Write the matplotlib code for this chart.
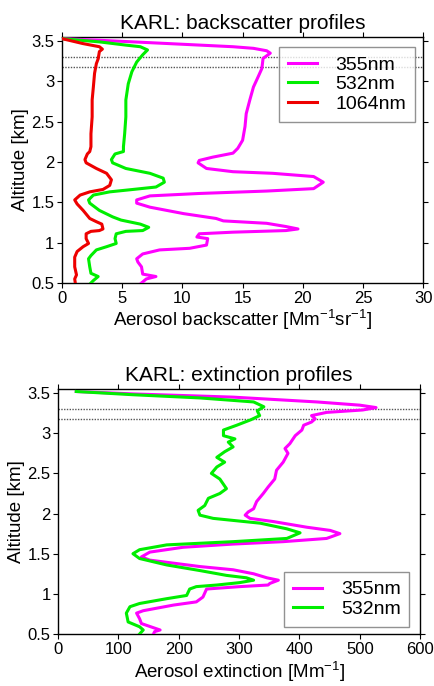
import matplotlib
matplotlib.use('Agg')
import matplotlib.pyplot as plt

plt.rcParams['font.family'] = ['Liberation Sans', 'DejaVu Sans']
plt.rcParams['mathtext.default'] = 'regular'

# backscatter profiles [Mm-1 sr-1] vs altitude [km]
b355_x = [0, 3.1, 8.7, 14.2, 15.9, 17.0, 17.3, 16.7, 16.6, 16.3, 15.9, 15.6, 15.3, 15.2,
          15.0, 14.6, 14.2, 12.5, 11.4, 11.3, 12.0, 14.2, 17.5, 20.9, 21.7, 20.9, 17.0,
          11.4, 7.3, 6.2, 6.2, 7.3, 10.1, 12.8, 13.4, 17.0, 18.6, 19.6, 18.6, 14.2, 11.4,
          11.2, 12.1, 12.0, 10.6, 8.1, 6.7, 6.2, 6.3, 6.6, 6.7, 7.8, 7.0, 6.6]
b355_y = [3.53, 3.51, 3.47, 3.43, 3.41, 3.38, 3.35, 3.285, 3.16, 3.06, 2.93, 2.77, 2.6, 2.44,
          2.27, 2.17, 2.11, 2.06, 2.02, 1.99, 1.92, 1.88, 1.86, 1.82, 1.75, 1.67, 1.64,
          1.61, 1.58, 1.53, 1.49, 1.44, 1.36, 1.30, 1.27, 1.24, 1.20, 1.17, 1.15, 1.13, 1.11,
          1.07, 1.05, 0.97, 0.93, 0.91, 0.86, 0.80, 0.76, 0.70, 0.61, 0.58, 0.55, 0.50]

b532_x = [0, 3.1, 5.3, 6.5, 7.1, 6.7, 6.2, 5.8, 5.5, 5.3, 5.3, 5.2, 5.1, 5.1, 4.4, 4.1, 4.2,
          5.3, 7.3, 8.4, 8.5, 7.8, 5.9, 3.96, 2.6, 2.2, 2.3, 3.1, 4.2, 4.9, 6.5, 7.2, 6.7,
          5.3, 4.5, 4.4, 4.5, 3.7, 2.85, 2.4, 2.2, 2.3, 2.4, 3.0, 2.6, 2.4]
b532_y = [3.53, 3.49, 3.45, 3.43, 3.39, 3.33, 3.24, 3.12, 2.97, 2.77, 2.56, 2.35, 2.19, 2.13,
          2.10, 2.03, 1.99, 1.92, 1.86, 1.80, 1.75, 1.69, 1.66, 1.63, 1.59, 1.53, 1.49,
          1.40, 1.32, 1.28, 1.23, 1.19, 1.15, 1.14, 1.11, 1.05, 0.99, 0.95, 0.91, 0.84,
          0.80, 0.70, 0.62, 0.58, 0.53, 0.50]

b1064_x = [0, 1.7, 3.1, 3.35, 3.1, 3.0, 2.85, 2.7, 2.6, 2.5, 2.5, 2.4, 2.4, 2.3, 2.1, 1.9,
           2.0, 2.85, 3.7, 4.1, 3.96, 3.4, 2.3, 1.5, 1.05, 1.25, 1.75, 2.3, 2.85, 3.3, 3.4,
           3.1, 2.4, 2.0, 2.0, 2.2, 1.75, 1.25, 1.05, 1.05, 1.2, 1.05, 1.1]
b1064_y = [3.53, 3.47, 3.43, 3.40, 3.37, 3.28, 3.22, 3.10, 2.93, 2.77, 2.56, 2.35, 2.19, 2.13,
           2.10, 2.03, 1.99, 1.92, 1.86, 1.78, 1.71, 1.66, 1.63, 1.59, 1.53, 1.48, 1.40,
           1.30, 1.26, 1.23, 1.17, 1.15, 1.14, 1.11, 1.05, 0.99, 0.95, 0.89, 0.82, 0.70,
           0.60, 0.55, 0.50]

# extinction profiles [Mm-1] vs altitude [km]
e355_x = [30, 124, 290, 429, 500, 527, 505, 445, 420, 426, 420, 407, 404, 393, 384, 376, 381,
          373, 362, 359, 348, 340, 329, 324, 315, 310, 318, 357, 412, 451, 467, 445, 373,
          290, 207, 152, 138, 152, 235, 290, 324, 346, 365, 351, 348, 301, 246, 240, 229,
          191, 141, 130, 135, 138, 169, 160, 158]
e355_y = [3.52, 3.49, 3.45, 3.39, 3.35, 3.32, 3.29, 3.26, 3.22, 3.18, 3.14, 3.10, 3.04, 2.97,
          2.87, 2.81, 2.75, 2.64, 2.54, 2.43, 2.33, 2.25, 2.15, 2.06, 2.02, 1.98, 1.94,
          1.90, 1.83, 1.79, 1.75, 1.69, 1.65, 1.62, 1.58, 1.52, 1.46, 1.42, 1.34, 1.30,
          1.25, 1.20, 1.17, 1.13, 1.11, 1.09, 1.06, 0.96, 0.90, 0.86, 0.79, 0.76, 0.69,
          0.63, 0.55, 0.53, 0.50]

e532_x = [30, 124, 235, 324, 341, 330, 334, 320, 296, 274, 274, 293, 282, 290, 276, 263, 276,
          263, 254, 268, 279, 268, 249, 243, 232, 235, 257, 335, 379, 401, 379, 290, 180,
          135, 124, 135, 180, 235, 279, 312, 324, 301, 263, 229, 218, 213, 180, 135, 119,
          113, 116, 135, 141, 135]
e532_y = [3.52, 3.48, 3.44, 3.39, 3.33, 3.28, 3.22, 3.17, 3.10, 3.04, 2.97, 2.93, 2.89, 2.83,
          2.77, 2.70, 2.64, 2.58, 2.50, 2.43, 2.31, 2.25, 2.19, 2.10, 2.04, 1.98, 1.94,
          1.88, 1.81, 1.76, 1.69, 1.65, 1.61, 1.55, 1.50, 1.44, 1.36, 1.29, 1.23, 1.20,
          1.17, 1.14, 1.11, 1.09, 1.06, 0.98, 0.94, 0.88, 0.84, 0.76, 0.65, 0.59, 0.55,
          0.50]

layer_bounds = [3.18, 3.30]
y_ticks = [0.5, 1, 1.5, 2, 2.5, 3, 3.5]
y_labels = ['0.5', '1', '1.5', '2', '2.5', '3', '3.5']

MAG = '#ff00ff'
GRN = '#00ee00'
RED = '#ee0000'

fig = plt.figure(figsize=(4.34, 6.86), dpi=100)
ax1 = fig.add_axes([0.143, 0.5875, 0.832, 0.3585])
ax2 = fig.add_axes([0.134, 0.0758, 0.834, 0.357])


def style(ax):
    ax.set_ylim(0.5, 3.55)
    ax.set_yticks(y_ticks)
    ax.set_yticklabels(y_labels)
    ax.tick_params(direction='out', length=3.5, width=0.8, top=True, right=True,
                   labelsize=12, pad=2)
    for s in ax.spines.values():
        s.set_linewidth(1.0)
    for yb in layer_bounds:
        ax.axhline(yb, color='#555555', linestyle=(0, (1, 1)), linewidth=1.0, zorder=1)
    ax.set_ylabel('Altitude [km]', fontsize=13.5, labelpad=2)


def legend(ax, **kw):
    leg = ax.legend(fontsize=14, fancybox=False, edgecolor='#777777',
                    handlelength=1.5, handletextpad=0.95, borderpad=0.45,
                    labelspacing=0.1, borderaxespad=0, **kw)
    leg.get_frame().set_linewidth(1.0)
    leg.set_zorder(5)


ax1.plot(b355_x, b355_y, color=MAG, lw=2.2, label='355nm', zorder=3)
ax1.plot(b532_x, b532_y, color=GRN, lw=2.2, label='532nm', zorder=3)
ax1.plot(b1064_x, b1064_y, color=RED, lw=2.2, label='1064nm', zorder=3)
ax1.set_xlim(0, 30)
ax1.set_xticks([0, 5, 10, 15, 20, 25, 30])
style(ax1)
ax1.set_xlabel('Aerosol backscatter [Mm$^{-1}$sr$^{-1}$]', fontsize=13.5, labelpad=2)
ax1.set_title('KARL: backscatter profiles', fontsize=15, pad=6)
legend(ax1, loc='upper right', bbox_to_anchor=(0.978, 0.958))

ax2.plot(e355_x, e355_y, color=MAG, lw=2.2, label='355nm', zorder=3)
ax2.plot(e532_x, e532_y, color=GRN, lw=2.2, label='532nm', zorder=3)
ax2.set_xlim(0, 600)
ax2.set_xticks([0, 100, 200, 300, 400, 500, 600])
style(ax2)
ax2.set_xlabel('Aerosol extinction [Mm$^{-1}$]', fontsize=13.5, labelpad=2)
ax2.set_title('KARL: extinction profiles', fontsize=15, pad=6)
legend(ax2, loc='lower right', bbox_to_anchor=(0.97, 0.03))

fig.savefig('out.png', dpi=100)
